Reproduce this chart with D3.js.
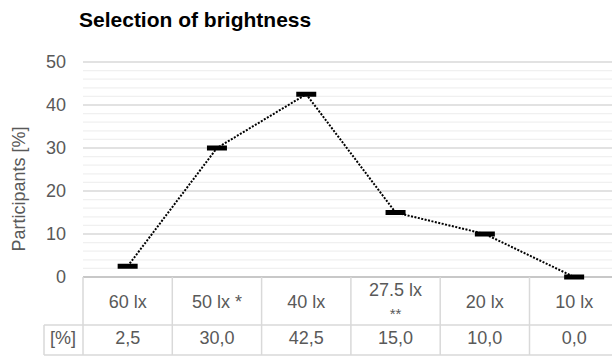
<!DOCTYPE html>
<html><head><meta charset="utf-8">
<script src="https://cdn.jsdelivr.net/npm/d3@7"></script>
<style>
body{margin:0;background:#fff;}
svg{display:block;font-family:"Liberation Sans",Arial,sans-serif;}
</style></head>
<body><svg id="c" width="612" height="356"></svg>
<script>
const categories = ["60 lx", "50 lx *", "40 lx", "27.5 lx\n**", "20 lx", "10 lx"];
const values = [2.5, 30.0, 42.5, 15.0, 10.0, 0.0];
const valueLabels = ["2,5", "30,0", "42,5", "15,0", "10,0", "0,0"];
const yTicks = [0, 10, 20, 30, 40, 50];
const title = "Selection of brightness";
const yLabel = "Participants [%]";
const rowLabel = "[%]";

const FS = "18px";
const svg = d3.select("#c");
const left = 83, colW = 89.3;
const x = d3.scaleBand().domain(categories).range([left, left + colW * categories.length]).padding(0);
const y = d3.scaleLinear().domain([0, 50]).range([277, 62]);

// minor grid
const minor = d3.range(0, 50.01, 2).filter(v => v % 10 !== 0);
svg.append("g").selectAll("line").data(minor).join("line")
  .attr("x1", left).attr("x2", 612).attr("y1", d => y(d)).attr("y2", d => y(d))
  .attr("stroke", "#f0f0f0").attr("stroke-width", 1.2);
// major grid
svg.append("g").selectAll("line").data(yTicks.filter(d => d > 0)).join("line")
  .attr("x1", left).attr("x2", 612).attr("y1", d => y(d)).attr("y2", d => y(d))
  .attr("stroke", "#d9d9d9").attr("stroke-width", 1.3);

// y axis labels
const yAxis = d3.axisLeft(y).tickValues(yTicks).tickSize(0).tickPadding(0);
const ga = svg.append("g").attr("transform", "translate(66,0)").call(yAxis);
ga.select(".domain").remove();
ga.selectAll("text").attr("fill", "#595959").attr("font-size", FS)
  .attr("font-family", "Liberation Sans, Arial, sans-serif");

// y label
svg.append("text").attr("transform", "translate(25,189) rotate(-90)")
  .attr("text-anchor", "middle").attr("fill", "#595959").attr("font-size", FS)
  .text(yLabel);

// title
svg.append("text").attr("x", 79).attr("y", 27).attr("font-weight", "bold")
  .attr("font-size", "21px").attr("fill", "#000").text(title);

// table
const tg = svg.append("g").attr("stroke", "#d9d9d9").attr("stroke-width", 1.5).attr("fill", "none");
tg.append("line").attr("x1", left).attr("x2", 612).attr("y1", y(0)).attr("y2", y(0)).attr("stroke", "#c8c8c8").attr("stroke-width", 2);
tg.append("line").attr("x1", 44).attr("x2", 612).attr("y1", 325).attr("y2", 325);
tg.append("line").attr("x1", 44).attr("x2", 612).attr("y1", 355).attr("y2", 355);
tg.append("line").attr("x1", 44).attr("x2", 44).attr("y1", 325).attr("y2", 355);
tg.selectAll("line.v").data(d3.range(categories.length + 1)).join("line").attr("class", "v")
  .attr("x1", i => left + i * colW).attr("x2", i => left + i * colW)
  .attr("y1", y(0)).attr("y2", 355);

// category labels
const cg = svg.append("g").attr("fill", "#595959").attr("font-size", FS).attr("text-anchor", "middle");
categories.forEach(c => {
  const cx = x(c) + x.bandwidth() / 2;
  const parts = c.split("\n");
  if (parts.length === 1) {
    cg.append("text").attr("x", cx).attr("y", 308).text(parts[0]);
  } else {
    cg.append("text").attr("x", cx).attr("y", 296).text(parts[0]);
    cg.append("text").attr("x", cx).attr("y", 319).attr("font-size", "15px").text(parts[1]);
  }
});
// values row
categories.forEach((c, i) => {
  cg.append("text").attr("x", x(c) + x.bandwidth() / 2).attr("y", 344).text(valueLabels[i]);
});
cg.append("text").attr("x", 63).attr("y", 344).text(rowLabel);

// line
const pts = categories.map((c, i) => [x(c) + x.bandwidth() / 2, y(values[i])]);
svg.append("path").attr("d", d3.line()(pts)).attr("fill", "none")
  .attr("stroke", "#000").attr("stroke-width", 2).attr("stroke-dasharray", "2,1.5");

// markers
svg.append("g").selectAll("rect").data(categories).join("rect")
  .attr("x", c => x(c) + x.bandwidth() / 2 - 10).attr("y", (c, i) => y(values[i]) - 2.5)
  .attr("width", 20).attr("height", 5).attr("fill", "#000");
</script></body></html>
